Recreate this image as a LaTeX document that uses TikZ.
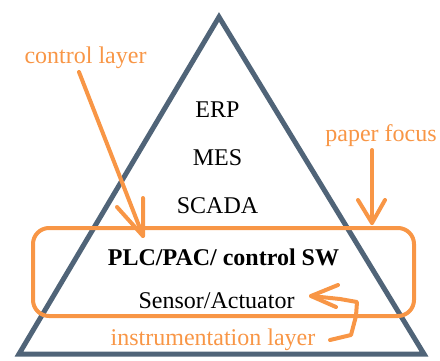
\documentclass[tikz,border=0pt]{standalone}
\usepackage{fontspec}
\setmainfont{Liberation Serif}
\definecolor{slate}{RGB}{80,100,120}
\definecolor{orng}{RGB}{248,150,70}
\begin{document}
\begin{tikzpicture}[x=1pt,y=-1pt,
  lbl/.style={anchor=base,inner sep=0pt,font=\fontsize{24}{28}\selectfont},
  olbl/.style={lbl,text=orng},
  opath/.style={draw=orng,line width=4pt,line cap=round,line join=round},
  pyr/.style={draw=slate,line width=5pt,line join=miter}]
\useasboundingbox (0,0) rectangle (440,360);
% pyramid
\coordinate (apex) at (219,17);
\coordinate (bl) at (19,354);
\coordinate (br) at (424,354);
\draw[pyr] (apex) -- (br) -- (bl) -- cycle;
% layer texts
\node[lbl] (erp) at (217.5,117) {ERP};
\node[lbl] (mes) at (217.5,165) {MES};
\node[lbl] (scada) at (217.5,213) {SCADA};
\node[lbl,font=\fontsize{24}{28}\selectfont\bfseries] (plc) at (223.5,265) {PLC/PAC/ control SW};
\node[lbl] (sens) at (216.5,308) {Sensor/Actuator};
% focus box
\node[opath,rounded corners=16pt,minimum width=381pt,minimum height=88pt,inner sep=0pt] (focus) at (223.5,272) {};
% orange labels
\node[olbl] (ctrl) at (85.5,63) {control layer};
\node[olbl] (paper) at (381,141) {paper focus};
\node[olbl] (instr) at (213,345) {instrumentation layer};
% control layer arrow
\coordinate (c0) at (79,72);
\coordinate (c1) at (143,236);
\draw[opath] (c0) -- (c1);
\draw[opath] (117,207) -- (c1) -- (143,198);
% paper focus arrow
\coordinate (p0) at (372,150);
\coordinate (p1) at (372,223);
\draw[opath] (p0) -- (p1);
\draw[opath] (358,200) -- (p1) -- (385,200);
% instrumentation layer arrow
\coordinate (i0) at (330,340);
\coordinate (i1) at (311,296);
\draw[opath] (i0) -- (351,335) -- (356,316) -- (357,302) -- (340,299) -- (i1);
\draw[opath] (338,285) -- (i1) -- (336,307);
\end{tikzpicture}
\end{document}
